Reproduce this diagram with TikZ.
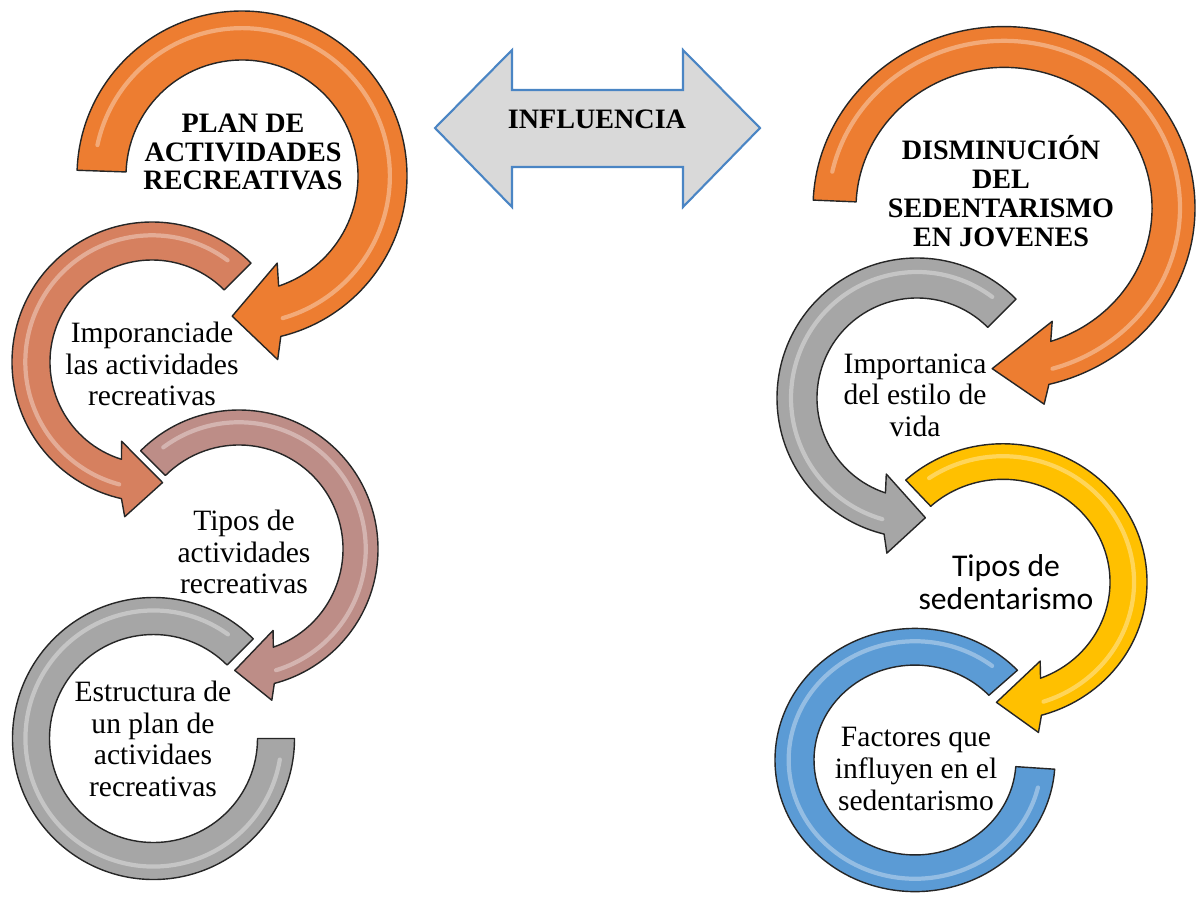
\documentclass[tikz,border=0pt]{standalone}
\usepackage{fontspec}
\setmainfont{Liberation Serif}
\newfontfamily\calibri{Carlito}

\definecolor{naranja}{HTML}{ED7D31}
\definecolor{teja}{HTML}{D6805F}
\definecolor{rosado}{HTML}{BD8D87}
\definecolor{gris}{HTML}{A6A6A6}
\definecolor{amarillo}{HTML}{FFC000}
\definecolor{azul}{HTML}{5B9BD5}
\definecolor{azulborde}{HTML}{4A85C4}

% Flecha circular: opciones, color, radio interior, radio exterior,
% angulo inicial, fin de la banda, angulo de la punta
\newcommand{\flechacirc}[7]{%
	\begin{scope}[#1]
		\pgfmathsetmacro\dA{(#7)-(#6)}
		\pgfmathsetmacro\rM{((#3)+(#4))/2}
		\pgfmathsetmacro\ala{0.45*((#4)-(#3))}
		\pgfmathsetmacro\rB{\rM+0.15*((#4)-(#3))}
		\pgfmathsetmacro\aB{(#5)+0.04*((#6)-(#5))}
		\filldraw[banda, fill=#2] (#5:#4)
			arc[start angle=#5, end angle={(#6)+0.12*(\dA)}, radius=#4]
			-- ({(#6)+0.25*(\dA)}:{(#4)+\ala}) -- (#7:\rM)
			-- ({(#6)-0.3*(\dA)}:{(#3)-\ala}) -- ({(#6)-0.12*(\dA)}:#3)
			arc[start angle={(#6)-0.12*(\dA)}, end angle=#5, radius=#3] -- cycle;
		\draw[brillo] (\aB:\rB) arc[start angle=\aB, end angle=#6, radius=\rB];
	\end{scope}}

% Banda circular sin punta (ultimo paso de cada columna)
\newcommand{\bandacirc}[6]{%
	\begin{scope}[#1]
		\pgfmathsetmacro\rB{((#3)+(#4))/2+0.15*((#4)-(#3))}
		\pgfmathsetmacro\aB{(#5)+0.03*((#6)-(#5))}
		\pgfmathsetmacro\bB{(#6)-0.03*((#6)-(#5))}
		\filldraw[banda, fill=#2] (#5:#4)
			arc[start angle=#5, end angle=#6, radius=#4]
			-- (#6:#3) arc[start angle=#6, end angle=#5, radius=#3] -- cycle;
		\draw[brillo] (\aB:\rB) arc[start angle=\aB, end angle=\bB, radius=\rB];
	\end{scope}}

\begin{document}
\begin{tikzpicture}[x=0.025cm, y=-0.025cm,
		banda/.style={draw=black!85, line width=1pt, line join=round},
		brillo/.style={draw=white, opacity=.35, line width=3pt, line cap=round},
		titulo/.style={align=center, font=\bfseries\fontsize{20}{20.5}\selectfont},
		texto/.style={align=center, font=\fontsize{21}{22.5}\selectfont}]
	\useasboundingbox (0,0) rectangle (1200,903);
	% Columna izquierda: plan de actividades
	\flechacirc{shift={(242,176)}}{naranja}{116}{165}{182}{434}{454}
	\flechacirc{shift={(152,362)}}{teja}{102}{140}{-45}{-255}{-275}
	\flechacirc{shift={(239,549)}}{rosado}{104}{139}{225}{433}{452}
	\bandacirc{shift={(153.5,738.5)}}{gris}{104}{141}{-45}{-360}
	\node[titulo] (plan) at (243,152) {PLAN DE\\ACTIVIDADES\\RECREATIVAS};
	\node[texto] (importancia) at (152,364) {Imporanciade\\las actividades\\recreativas};
	\node[texto] (tipos) at (244,552) {Tipos de\\actividades\\recreativas};
	\node[texto] (estructura) at (153,739) {Estructura de\\un plan de\\actividaes\\recreativas};
	% Flecha doble del centro
	\filldraw[draw=azulborde, line width=1.5pt, fill=black!15]
		(435,128) -- (512,50) -- (512,90) -- (683,90) -- (683,50) -- (760,128)
		-- (683,207) -- (683,167) -- (512,167) -- (512,207) -- cycle;
	\node[titulo] (influencia) at (597,119) {INFLUENCIA};
	% Columna derecha: sedentarismo
	\flechacirc{shift={(1004,208)}, yscale=.95}{naranja}{148}{191}{182.5}{434}{454}
	\flechacirc{shift={(917,398)}}{gris}{100}{140}{-45}{-254}{-274}
	\flechacirc{shift={(1003,582)}, yscale=.96}{amarillo}{107}{144}{227.5}{432}{453}
	\bandacirc{shift={(915,760)}, yscale=.94}{azul}{101}{140}{-43}{-356}
	\node[titulo] (disminucion) at (1001,191) {DISMINUCIÓN\\DEL\\SEDENTARISMO\\EN JOVENES};
	\node[texto] (estilo) at (915,395) {Importanica\\del estilo de\\vida};
	\node[align=center, font=\calibri\fontsize{22.5}{24}\selectfont] (tiposed) at (1006,582) {Tipos de\\sedentarismo};
	\node[texto] (factores) at (916,769) {Factores que\\influyen en el\\sedentarismo};
\end{tikzpicture}
\end{document}
